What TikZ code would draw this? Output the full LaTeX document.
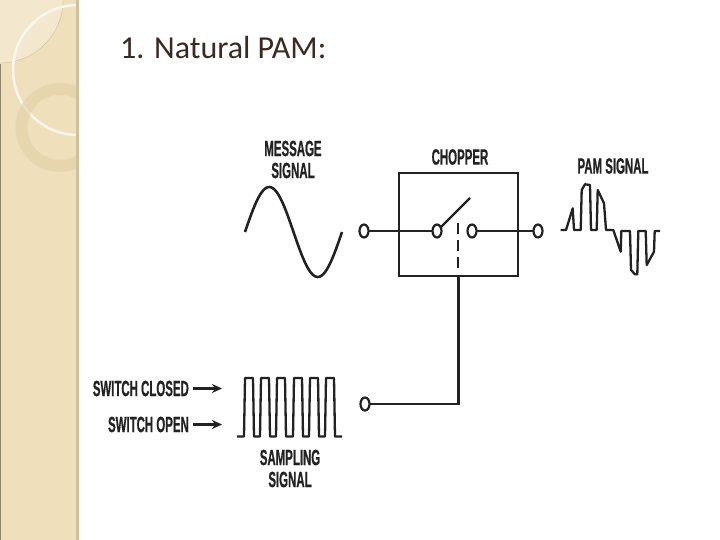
\documentclass[tikz,border=0pt]{standalone}
\usepackage{fontspec}
\setmainfont{Carlito}
\newfontfamily\lblfont[FakeStretch=0.52,FakeBold=0.6]{Liberation Sans Bold}
\definecolor{bgbeige}{HTML}{EFDFBB}
\definecolor{bgedge}{HTML}{CFC19C}
\definecolor{ringc}{HTML}{DFCDA2}
\definecolor{lightc}{HTML}{F3E8CE}
\definecolor{headc}{HTML}{3A2A22}
\definecolor{inkc}{HTML}{222222}
\usetikzlibrary{arrows.meta,shapes.geometric}
\tikzset{
  wire/.style={draw=inkc,line width=2.8pt},
  boxline/.style={draw=inkc,line width=2.6pt},
  wave/.style={draw=inkc,line width=2.3pt,line join=round},
  term/.style={ellipse,draw=inkc,fill=white,line width=2.2pt,minimum width=9pt,minimum height=13pt,inner sep=0pt,outer sep=0pt},
  lbl/.style={font=\lblfont\fontsize{22}{22}\selectfont,text=inkc,align=center,inner sep=0pt},
  arr/.style={draw=inkc,line width=2.1pt,-{Stealth[length=10pt,width=9pt]}},
}
\begin{document}
\begin{tikzpicture}[x=1pt,y=-1pt]
\useasboundingbox (0,0) rectangle (720,540);
\fill[white] (0,0) rectangle (720,540);
% decorative side strip
\fill[bgbeige] (0,0) rectangle (78,540);
\begin{scope}
\clip (0,0) rectangle (76,540);
\fill[lightc] (0,0) circle[radius=63];
\draw[bgedge,line width=0.4pt] (0,0) circle[radius=63];
\draw[white!75!bgbeige,line width=2.5pt] (78,70) circle[radius=65];
\draw[ringc,line width=11.5pt,opacity=0.55] (60,127.5) circle[radius=38.5];
\draw[bgedge!60,line width=0.4pt] (60,127.5) circle[radius=44.5];
\draw[bgedge!60,line width=0.4pt] (60,127.5) circle[radius=32.5];
\end{scope}
\fill[bgedge] (76,0) rectangle (79,540);
\fill[bgedge!70!black] (0,64) rectangle (1,540);
% title
\node[anchor=west,inner sep=0pt,text=headc,font=\fontsize{32}{36}\selectfont] (title) at (120,48) {1. Natural PAM:};
% labels
\node[lbl] (msg) at (293,159.5) {MESSAGE\\SIGNAL};
\node[lbl] (chop) at (460,157) {CHOPPER};
\node[lbl] (pam) at (613,166) {PAM SIGNAL};
\node[lbl,anchor=east] (sc) at (189,388.5) {SWITCH CLOSED};
\node[lbl,anchor=east] (so) at (189,424.5) {SWITCH OPEN};
\node[lbl] (samp) at (290,468.5) {SAMPLING\\SIGNAL};
% chopper box
\node[boxline,draw,minimum width=119pt,minimum height=103pt,inner sep=0pt] (box) at (458.5,224.5) {};
% terminals
\node[term] (t1) at (364,231) {};
\node[term] (t2) at (437,231) {};
\node[term] (t3) at (472,231) {};
\node[term] (t4) at (538,231) {};
\node[term] (t5) at (365,404) {};
\coordinate (armend) at (470,198);
\coordinate (dashtop) at (458,223);
\coordinate (dashbot) at (458,268);
\coordinate (corner) at (458.5,404);
\draw[wire] (t1) -- (t2);
\draw[wire] (t3) -- (t4);
\draw[wire,line width=2.2pt] (t2) -- (armend);
\draw[wire,line width=2.2pt,dash pattern=on 11pt off 6pt] (dashtop) -- (dashbot);
\draw[wire,line width=2.2pt] (box.south) -- (corner) -- (t5);
% arrows
\coordinate (a1) at (222,388.5);
\coordinate (a2) at (222,424.5);
\draw[arr] ([xshift=4pt]sc.east) -- (a1);
\draw[arr] ([xshift=4pt]so.east) -- (a2);
% message sine
\draw[wave,line width=2.6pt] plot[domain=0:97,samples=60,smooth] ({245+\x},{232-45*sin(\x/97*360)});
% PAM signal
\draw[wave] (560.7,230) -- (566,230) -- (572.7,208.3) -- (574,230) -- (580.7,230) -- (581.7,190) -- (585,184.3) -- (590,185) -- (591,230) -- (596.7,230) -- (597.7,190) -- (604,203.3) -- (606,230) -- (613.3,230) -- (620.7,251.7) -- (621.3,231) -- (630,231) -- (631,270) -- (635,274.3) -- (637.3,274.3) -- (638.3,231) -- (645.7,231) -- (646.7,265) -- (654,251.7) -- (654.7,231) -- (660,231);
% sampling signal
\draw[wave] (237,436.5) -- (244,436.5) -- (245,378) -- (253,378) -- (254,436.5) -- (260,436.5) -- (261,378) -- (269,378) -- (270,436.5) -- (276,436.5) -- (277,378) -- (285,378) -- (286,436.5) -- (293,436.5) -- (294,378) -- (302,378) -- (303,436.5) -- (309,436.5) -- (310,378) -- (318,378) -- (319,436.5) -- (325,436.5) -- (326,378) -- (334,378) -- (335,436.5) -- (342,436.5);
\end{tikzpicture}
\end{document}
